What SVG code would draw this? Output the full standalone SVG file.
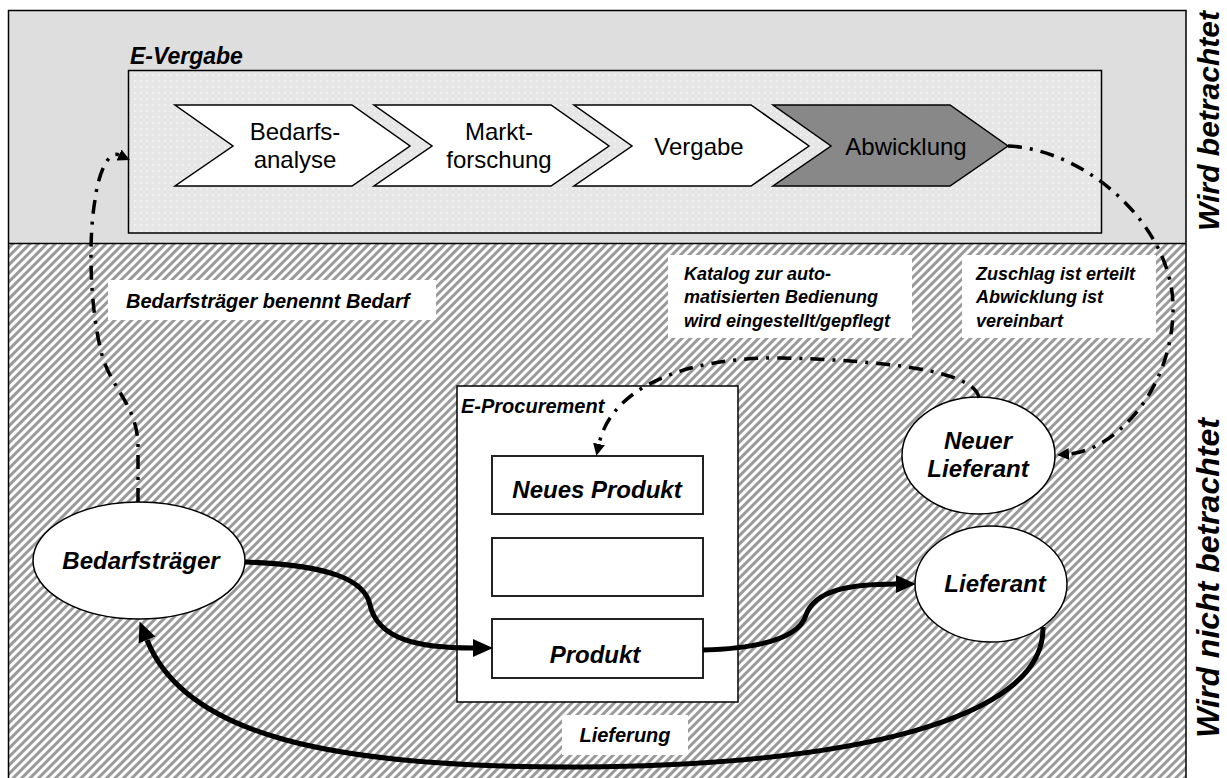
<svg xmlns="http://www.w3.org/2000/svg" width="1227" height="778" viewBox="0 0 1227 778">
  <defs>
    <style>
      text { font-family: "Liberation Sans", Arial, sans-serif; fill: #000; }
      .step { font-size: 24px; }
      .bi { font-weight: bold; font-style: italic; }
      .chev { fill: #fff; stroke: #000; stroke-width: 1.5; }
      .chev-dark { fill: #888; stroke: #000; stroke-width: 1.5; }
      .node { fill: #fff; stroke: #000; stroke-width: 1.5; }
      .slot { fill: #fff; stroke: #222; stroke-width: 2; }
      .tag { fill: #fff; stroke: none; }
      .flow { fill: none; stroke: #000; stroke-width: 5; }
      .info { fill: none; stroke: #000; stroke-width: 3.5; stroke-dasharray: 14 8 3 8; }
    </style>
    <pattern id="hatch" patternUnits="userSpaceOnUse" width="6" height="6" patternTransform="rotate(45)">
      <rect width="6" height="6" fill="#fff"/>
      <rect width="3" height="6" fill="#9a9a9a"/>
    </pattern>
    <pattern id="dots" patternUnits="userSpaceOnUse" width="6" height="6">
      <rect width="6" height="6" fill="#e6e6e6"/>
      <circle cx="3" cy="3" r="0.9" fill="#f6f6f6"/>
    </pattern>
    <marker id="head-flow" markerUnits="userSpaceOnUse" markerWidth="22" markerHeight="18" refX="0" refY="9" orient="auto">
      <path d="M0,0 L20,9 L0,18 z" fill="#000"/>
    </marker>
    <marker id="head-info" markerUnits="userSpaceOnUse" markerWidth="13" markerHeight="12" refX="0" refY="6" orient="auto">
      <path d="M0,0 L12,6 L0,12 z" fill="#000"/>
    </marker>
  </defs>

  <!-- zones -->
  <g id="zones">
    <rect x="8.5" y="10.5" width="1177.5" height="233" fill="#dedede"/>
    <rect x="8.5" y="243.5" width="1177.5" height="545" fill="url(#hatch)"/>
    <rect x="8.5" y="10.5" width="1177.5" height="780" fill="none" stroke="#000" stroke-width="1.5"/>
    <line x1="8.5" y1="243.5" x2="1186" y2="243.5" stroke="#000" stroke-width="1.5"/>
    <text class="bi" font-size="30" transform="translate(1219,121) rotate(-90)" text-anchor="middle">Wird betrachtet</text>
    <text class="bi" font-size="32" transform="translate(1219,578) rotate(-90)" text-anchor="middle">Wird nicht betrachtet</text>
  </g>

  <!-- E-Vergabe container with process steps -->
  <g id="e-vergabe">
    <rect x="128.5" y="70.5" width="973" height="162.5" fill="url(#dots)" stroke="#000" stroke-width="1.5"/>
    <text class="bi" font-size="23" x="130" y="64">E-Vergabe</text>
  </g>
  <g id="step-bedarfsanalyse">
    <polygon class="chev" points="175,105 352,105 410,146 352,186 175,186 233,146"/>
    <text class="step" x="295" y="140" text-anchor="middle">Bedarfs-</text>
    <text class="step" x="295" y="168" text-anchor="middle">analyse</text>
  </g>
  <g id="step-marktforschung">
    <polygon class="chev" points="374,105 551,105 609,146 551,186 374,186 432,146"/>
    <text class="step" x="499" y="140" text-anchor="middle">Markt-</text>
    <text class="step" x="499" y="168" text-anchor="middle">forschung</text>
  </g>
  <g id="step-vergabe">
    <polygon class="chev" points="574,105 751,105 809,146 751,186 574,186 632,146"/>
    <text class="step" x="699" y="155" text-anchor="middle">Vergabe</text>
  </g>
  <g id="step-abwicklung">
    <polygon class="chev-dark" points="773,105 950,105 1008,146 950,186 773,186 831,146"/>
    <text class="step" x="906" y="155" text-anchor="middle">Abwicklung</text>
  </g>

  <!-- E-Procurement catalogue -->
  <g id="e-procurement">
    <rect class="node" x="457" y="386" width="281" height="316"/>
    <text class="bi" font-size="20" x="461" y="413">E-Procurement</text>
  </g>
  <g id="neues-produkt">
    <rect class="slot" x="492" y="456" width="211" height="58"/>
    <text class="bi" font-size="24" x="597" y="498" text-anchor="middle">Neues Produkt</text>
  </g>
  <g id="leer">
    <rect class="slot" x="492" y="538" width="211" height="58"/>
  </g>
  <g id="produkt">
    <rect class="slot" x="492" y="619" width="211" height="59"/>
    <text class="bi" font-size="24" x="595" y="663" text-anchor="middle">Produkt</text>
  </g>

  <!-- actors -->
  <g id="bedarfstraeger">
    <ellipse class="node" cx="139" cy="560.5" rx="106" ry="58.5"/>
    <text class="bi" font-size="24" x="141" y="569" text-anchor="middle">Bedarfsträger</text>
  </g>
  <g id="neuer-lieferant">
    <ellipse class="node" cx="978.5" cy="455.5" rx="76.5" ry="58.5"/>
    <text class="bi" font-size="24" x="978" y="449" text-anchor="middle">Neuer</text>
    <text class="bi" font-size="24" x="978" y="477" text-anchor="middle">Lieferant</text>
  </g>
  <g id="lieferant">
    <ellipse class="node" cx="991" cy="584" rx="76" ry="58"/>
    <text class="bi" font-size="24" x="995" y="592" text-anchor="middle">Lieferant</text>
  </g>

  <!-- connectors -->
  <g id="connectors">
    <path class="info" d="M138,502 L138,445 C137,405 112,390 102,355 C90,310 88,240 95,200 C98,175 108,150 119,155" marker-end="url(#head-info)"/>
    <path class="info" d="M1008,146 C1090,150 1175,230 1173,310 C1172,390 1115,450 1069,454" marker-end="url(#head-info)"/>
    <path class="info" d="M979,398 C975,370 880,360 780,358 C690,357 612,385 599,444" marker-end="url(#head-info)"/>
    <path class="flow" d="M245,562 C330,565 365,580 370,605 C378,640 420,648 473,648" marker-end="url(#head-flow)"/>
    <path class="flow" d="M703,650 C770,648 800,635 806,615 C815,590 850,584 896,584" marker-end="url(#head-flow)"/>
    <path class="flow" d="M1043,627 C1045,720 850,765 580,767 C330,768 185,735 147,640" marker-end="url(#head-flow)"/>
  </g>

  <!-- connector labels -->
  <g id="label-bedarf">
    <rect class="tag" x="108" y="280" width="328" height="40"/>
    <text class="bi" font-size="20" x="126" y="308">Bedarfsträger benennt Bedarf</text>
  </g>
  <g id="label-katalog">
    <rect class="tag" x="668" y="255" width="244" height="83"/>
    <text class="bi" font-size="18" x="684" y="280">Katalog zur auto-</text>
    <text class="bi" font-size="18" x="684" y="303">matisierten Bedienung</text>
    <text class="bi" font-size="18" x="684" y="327">wird eingestellt/gepflegt</text>
  </g>
  <g id="label-zuschlag">
    <rect class="tag" x="962" y="255" width="194" height="83"/>
    <text class="bi" font-size="18" x="976" y="280">Zuschlag ist erteilt</text>
    <text class="bi" font-size="18" x="976" y="303">Abwicklung ist</text>
    <text class="bi" font-size="18" x="976" y="327">vereinbart</text>
  </g>
  <g id="label-lieferung">
    <rect class="tag" x="562" y="715" width="126" height="40"/>
    <text class="bi" font-size="20" x="625" y="742" text-anchor="middle">Lieferung</text>
  </g>
</svg>
